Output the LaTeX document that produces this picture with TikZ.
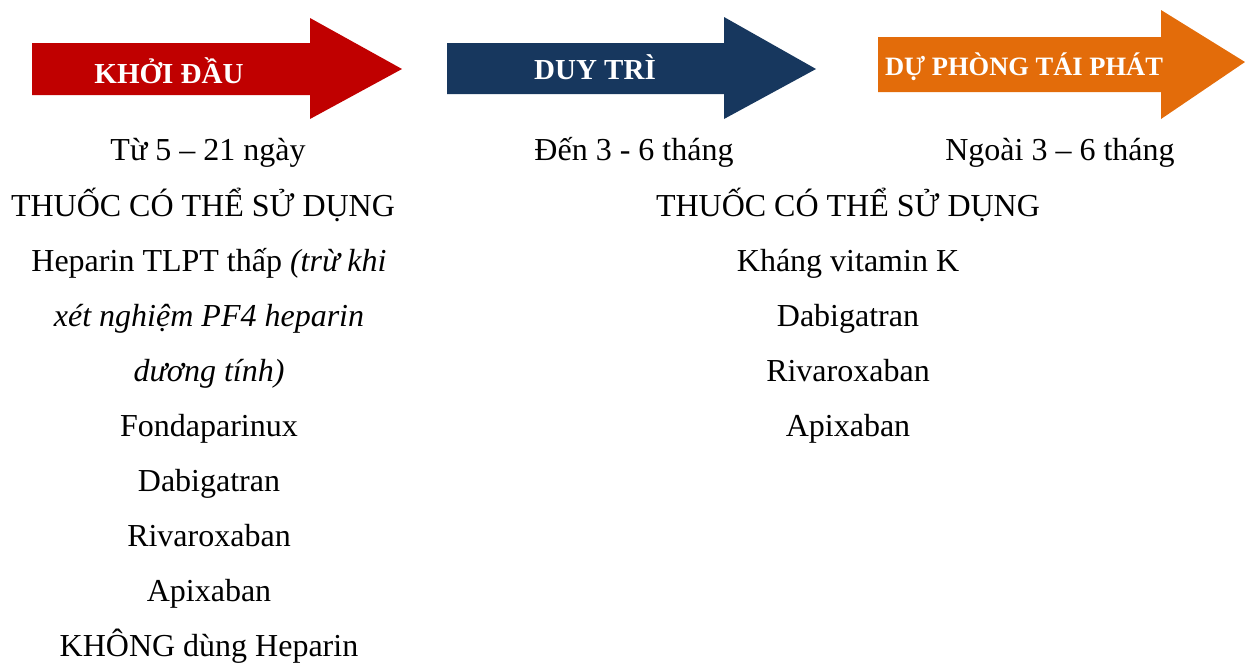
\documentclass[tikz,border=0pt]{standalone}
\usepackage{fontspec}
\setmainfont{Liberation Serif}
\usepackage{tikz}
\usetikzlibrary{calc, positioning}
\definecolor{khoired}{HTML}{C00000}
\definecolor{duytriblue}{HTML}{17375E}
\definecolor{dporange}{HTML}{E36C0A}
\tikzset{
  txt/.style={anchor=base, inner sep=0pt, font=\fontsize{32}{38}\selectfont},
  lbl/.style={anchor=base, inner sep=0pt, text=white, font=\fontsize{29}{34}\selectfont\bfseries}
}

\begin{document}
\begin{tikzpicture}[x=1pt, y=-1pt]
  \useasboundingbox (0,0) rectangle (1245,662);
  % the three phase arrows
  \fill [khoired] (32,43) -- (310,43) -- (310,18) -- (402,69) -- (310,119) -- (310,95) -- (32,95) -- cycle;
  \fill [duytriblue] (447,43) -- (724,43) -- (724,17) -- (816,69) -- (724,119) -- (724,94) -- (447,94) -- cycle;
  \fill [dporange] (878,37) -- (1161,37) -- (1161,10) -- (1245,62) -- (1161,119) -- (1161,92) -- (878,92) -- cycle;
  \node (khoidau) at (169,83) [lbl] {KHỞI ĐẦU};
  \node (duytri) at (595,79) [lbl] {DUY TRÌ};
  \node (duphong) at (1024,75) [lbl, font=\fontsize{26.5}{31}\selectfont\bfseries] {DỰ PHÒNG TÁI PHÁT};
  % durations
  \node (tgkhoi) at (208,160) [txt] {Từ 5 – 21 ngày};
  \node (tgduy) at (634,160) [txt] {Đến 3 - 6 tháng};
  \node (tgdu) at (1060,160) [txt] {Ngoài 3 – 6 tháng};
  % drugs, first phase
  \node (thuoc1) at (203,216) [txt] {THUỐC CÓ THỂ SỬ DỤNG};
  \node (hep) at (209,271) [txt] {Heparin TLPT thấp \textit{(trừ khi}};
  \node (hep2) at (209,326) [txt] {\textit{xét nghiệm PF4 heparin}};
  \node (hep3) at (209,381) [txt] {\textit{dương tính)}};
  \node (fonda) at (209,436) [txt] {Fondaparinux};
  \node (dabi1) at (209,491) [txt] {Dabigatran};
  \node (riva1) at (209,546) [txt] {Rivaroxaban};
  \node (apix1) at (209,601) [txt] {Apixaban};
  \node (khong) at (209,656) [txt] {KHÔNG dùng Heparin};
  % drugs, later phases
  \node (thuoc2) at (848,216) [txt] {THUỐC CÓ THỂ SỬ DỤNG};
  \node (avk) at (848,271) [txt] {Kháng vitamin K};
  \node (dabi2) at (848,326) [txt] {Dabigatran};
  \node (riva2) at (848,381) [txt] {Rivaroxaban};
  \node (apix2) at (848,436) [txt] {Apixaban};
\end{tikzpicture}
\end{document}
